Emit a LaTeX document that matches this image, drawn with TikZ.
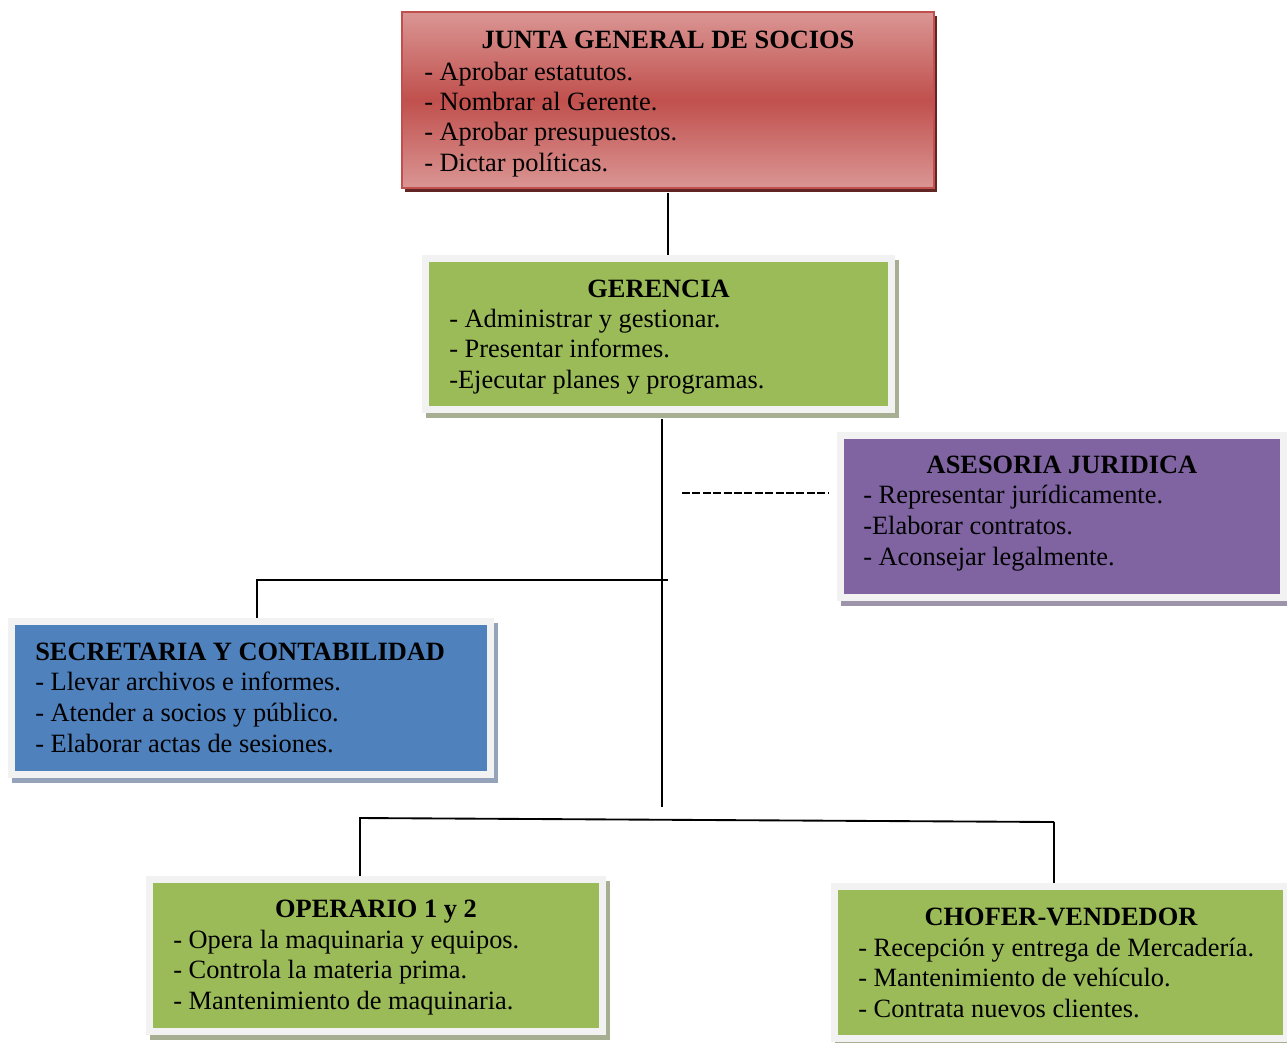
\documentclass[tikz,border=0pt]{standalone}
\usepackage{fontspec}
\setmainfont{Liberation Serif}
\definecolor{framegray}{RGB}{242,242,242}
\definecolor{ogreen}{RGB}{155,187,89}
\definecolor{oblue}{RGB}{79,129,189}
\definecolor{opurple}{RGB}{128,100,162}
\definecolor{ored}{RGB}{192,80,77}
\definecolor{opink}{RGB}{218,150,148}
\definecolor{redsh}{RGB}{99,37,35}
\definecolor{greensh}{RGB}{166,175,145}
\definecolor{bluesh}{RGB}{149,163,186}
\definecolor{purplesh}{RGB}{158,148,170}
\tikzset{
  plainrect/.style={rectangle, inner sep=0pt, outer sep=0pt},
  titletxt/.style={inner sep=0pt, anchor=base, font=\fontsize{19.8pt}{23pt}\selectfont\bfseries},
  titleleft/.style={titletxt, anchor=base west},
  linetxt/.style={inner sep=0pt, anchor=base west, font=\fontsize{19.8pt}{23pt}\selectfont},
  conn/.style={line width=1.4pt, black},
  dashconn/.style={line width=1.5pt, black, dash pattern=on 6pt off 1.8pt}
}
\newcommand\orgbox[7]{%
  \node[plainrect, fill=#7, minimum width={(#4+14)*0.75pt}, minimum height={(#5+14)*0.75pt}] (#1-s) at ({#2+4},{#3+5}) {};
  \node[plainrect, fill=framegray, minimum width={(#4+14)*0.75pt}, minimum height={(#5+14)*0.75pt}] (#1-f) at (#2,#3) {};
  \node[plainrect, fill=#6, minimum width={#4*0.75pt}, minimum height={#5*0.75pt}] (#1) at (#2,#3) {};
}
\newcommand\orglines[5]{%
  \foreach \t [count=\i] in {#5} {
    \node[linetxt] (#1-l\i) at (#2,{#3+(\i-1)*#4}) {\t};
  }
}
\begin{document}
\begin{tikzpicture}[x=0.75pt,y=-0.75pt]
\useasboundingbox (0,0) rectangle (1287,1042);
\fill[white] (0,0) rectangle (1287,1042);

% JUNTA
\node[plainrect, fill=redsh, minimum width={532*0.75pt}, minimum height={176*0.75pt}] (junta-s) at (671,104) {};
\node[plainrect, top color=opink, bottom color=opink, middle color=ored, draw=ored, line width=1.3pt,
      minimum width={532*0.75pt}, minimum height={176*0.75pt}] (junta) at (668,100) {};
\node[titletxt] (junta-t) at (668,48) {JUNTA GENERAL DE SOCIOS};
\orglines{junta}{424}{80}{30.4}{{- Aprobar estatutos.},{- Nombrar al Gerente.},{- Aprobar presupuestos.},{- Dictar políticas.}}

% GERENCIA
\orgbox{ger}{658.5}{334}{459}{144}{ogreen}{greensh}
\node[titletxt] (ger-t) at (658.5,297) {GERENCIA};
\orglines{ger}{449}{327}{30.5}{{- Administrar y gestionar.},{- Presentar informes.},{-Ejecutar planes y programas.}}

% ASESORIA
\orgbox{ase}{1062}{516.5}{436}{155}{opurple}{purplesh}
\node[titletxt] (ase-t) at (1062,473) {ASESORIA JURIDICA};
\orglines{ase}{863}{503}{31}{{- Representar jurídicamente.},{-Elaborar contratos.},{- Aconsejar legalmente.}}

% SECRETARIA
\orgbox{sec}{251}{698}{472}{146}{oblue}{bluesh}
\node[titleleft] (sec-t) at (35,660) {SECRETARIA Y CONTABILIDAD};
\orglines{sec}{35}{690}{31}{{- Llevar archivos e informes.},{- Atender a socios y público.},{- Elaborar actas de sesiones.}}

% OPERARIO
\orgbox{ope}{376}{955.5}{446}{145}{ogreen}{greensh}
\node[titletxt] (ope-t) at (376,917) {OPERARIO 1 y 2};
\orglines{ope}{173}{948}{30.5}{{- Opera la maquinaria y equipos.},{- Controla la materia prima.},{- Mantenimiento de maquinaria.}}

% CHOFER
\orgbox{cho}{1060.5}{962.5}{445}{145}{ogreen}{greensh}
\node[titletxt] (cho-t) at (1061,925) {CHOFER-VENDEDOR};
\orglines{cho}{858}{956}{30.5}{{- Recepción y entrega de Mercadería.},{- Mantenimiento de vehículo.},{- Contrata nuevos clientes.}}

% connectors
\coordinate (m1) at (662,807);
\coordinate (b1) at (668,580);
\coordinate (b2) at (257,580);
\coordinate (d1) at (682,493);
\coordinate (d2) at (828,493);
\coordinate (h1) at (359,818);
\coordinate (h2) at (1054,822);

\draw[conn] (junta.south) ++(0,5) -- (junta.south |- ger-f.north);
\draw[conn] (ger-f.south -| m1) ++(0,6) -- (m1);
\draw[conn] (b1) -- (b2) -- (b2 |- sec-f.north);
\draw[dashconn] (d1) -- (d2);
\draw[conn] (h1) -- (h2);
\draw[conn] ([xshift=0.75pt]h1) -- ([xshift=0.75pt]h1 |- ope-f.north);
\draw[conn] (h2) -- (h2 |- cho-f.north);
\end{tikzpicture}
\end{document}
